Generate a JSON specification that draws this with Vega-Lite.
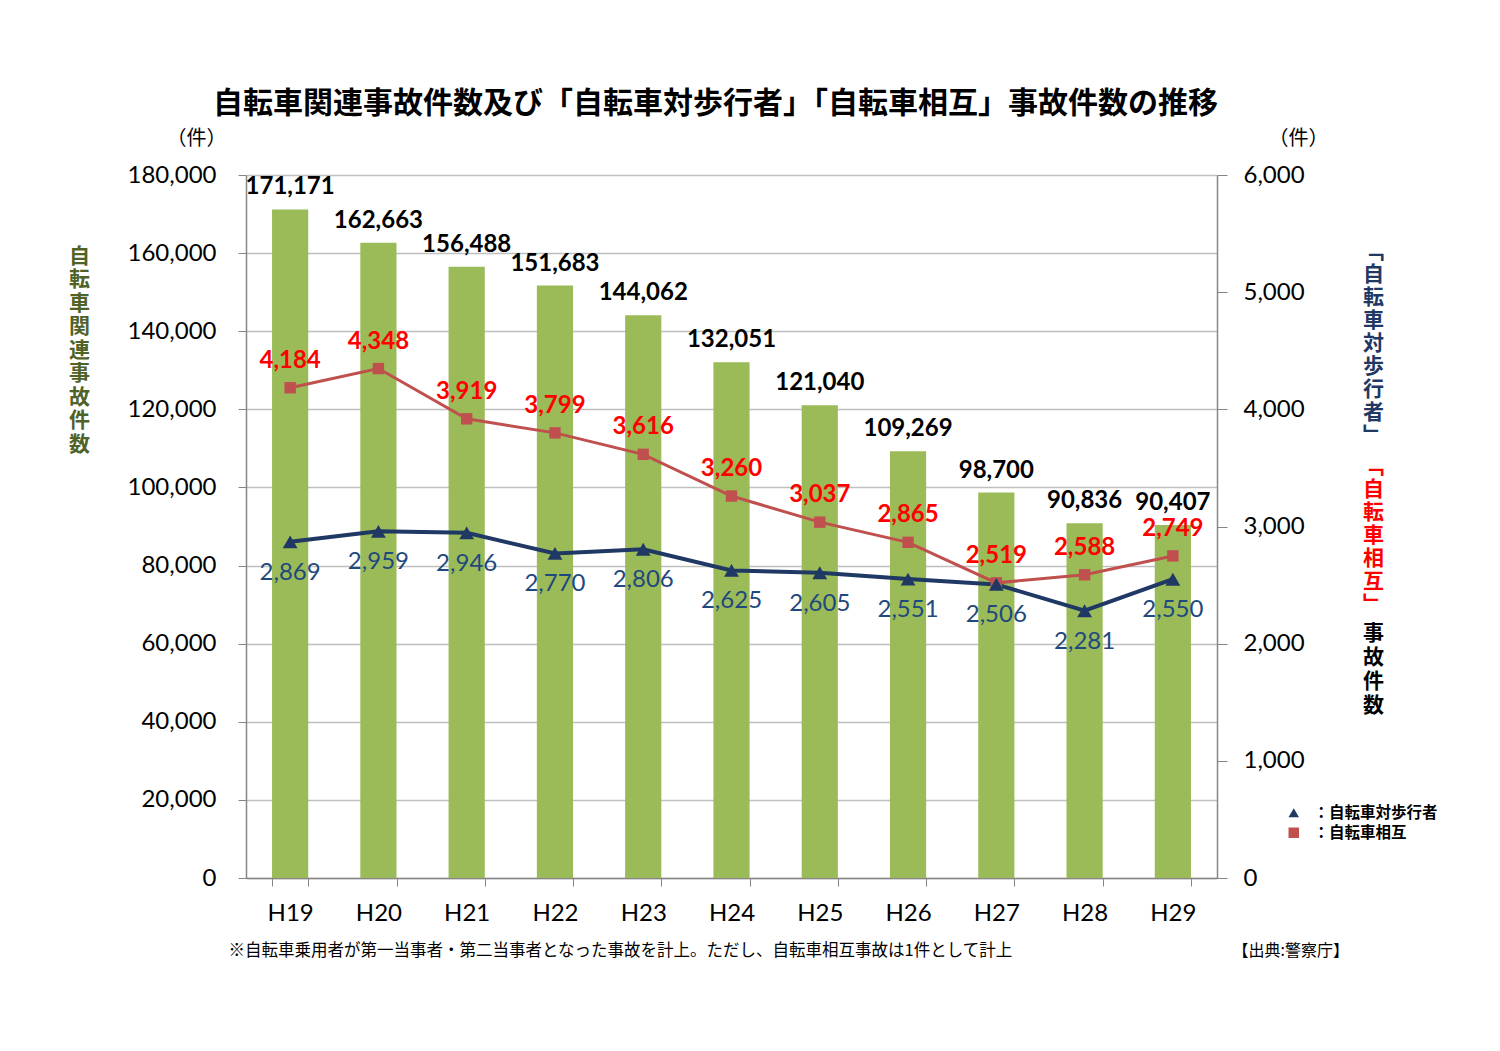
{
  "$schema": "https://vega.github.io/schema/vega-lite/v6.json",
  "width": 971,
  "height": 703,
  "autosize": {"type": "none"},
  "padding": {"left": 246, "top": 175, "right": 283, "bottom": 173},
  "background": "white",
  "title": {
    "text": "自転車関連事故件数及び「自転車対歩行者」「自転車相互」事故件数の推移",
    "font": "Noto Sans CJK JP",
    "fontSize": 30,
    "fontWeight": "bold",
    "color": "#000000",
    "anchor": "middle",
    "frame": "group",
    "dx": -16,
    "offset": 9
  },
  "config": {
    "view": {"stroke": null},
    "axis": {"labelFont": "Lato", "titleFont": "Noto Sans CJK JP"}
  },
  "data": {
    "values": [
      {"year": "H19", "total": 171171, "mutual": 4184, "ped": 2869},
      {"year": "H20", "total": 162663, "mutual": 4348, "ped": 2959},
      {"year": "H21", "total": 156488, "mutual": 3919, "ped": 2946},
      {"year": "H22", "total": 151683, "mutual": 3799, "ped": 2770},
      {"year": "H23", "total": 144062, "mutual": 3616, "ped": 2806},
      {"year": "H24", "total": 132051, "mutual": 3260, "ped": 2625},
      {"year": "H25", "total": 121040, "mutual": 3037, "ped": 2605},
      {"year": "H26", "total": 109269, "mutual": 2865, "ped": 2551},
      {"year": "H27", "total": 98700, "mutual": 2519, "ped": 2506},
      {"year": "H28", "total": 90836, "mutual": 2588, "ped": 2281},
      {"year": "H29", "total": 90407, "mutual": 2749, "ped": 2550}
    ]
  },
  "resolve": {"scale": {"y": "independent"}, "axis": {"x": "independent"}},
  "layer": [
    {
      "encoding": {
        "x": {
          "field": "year",
          "type": "ordinal",
          "scale": {"paddingInner": 0.59, "paddingOuter": 0.295},
          "axis": {
            "orient": "bottom",
            "labelAngle": 0,
            "labelFontSize": 24,
            "labelColor": "#000000",
            "labelPadding": 15,
            "tickBand": "extent",
            "tickSize": 8,
            "tickColor": "#868686",
            "domainColor": "#868686",
            "domainWidth": 1.5,
            "title": "※自転車乗用者が第一当事者・第二当事者となった事故を計上。ただし、自転車相互事故は1件として計上",
            "titleFontSize": 16.5,
            "titleFontWeight": "normal",
            "titleColor": "#000000",
            "titleX": -18,
            "titleY": 72,
            "titleAlign": "left",
            "titleBaseline": "middle",
            "titleAnchor": null
          }
        }
      },
      "resolve": {"axis": {"y": "independent"}},
      "layer": [
        {
          "mark": {"type": "bar", "color": "#9BBB59"},
          "encoding": {
            "y": {
              "field": "total",
              "type": "quantitative",
              "scale": {"domain": [0, 180000], "nice": false},
              "axis": {
                "orient": "left",
                "values": [0, 20000, 40000, 60000, 80000, 100000, 120000, 140000, 160000, 180000],
                "format": ",.0f",
                "labelFontSize": 24,
                "labelColor": "#000000",
                "labelPadding": 22,
                "tickSize": 8,
                "tickColor": "#868686",
                "domainColor": "#868686",
                "domainWidth": 1.5,
                "grid": true,
                "gridColor": "#BFBFBF",
                "gridWidth": 1.5,
                "title": ["自", "転", "車", "関", "連", "事", "故", "件", "数"],
                "titleColor": "#4F6228",
                "titleFontSize": 21,
                "titleFontWeight": "bold",
                "titleAngle": 0,
                "titleX": -167,
                "titleY": 70,
                "titleAlign": "center",
                "titleBaseline": "top",
                "titleLineHeight": 23.5
              }
            }
          }
        },
        {
          "mark": {"type": "text", "font": "Lato", "fontWeight": "bold", "fontSize": 24, "color": "#000000", "baseline": "middle", "dy": -22},
          "encoding": {
            "y": {
              "field": "total",
              "type": "quantitative",
              "axis": {
                "orient": "left",
                "labels": false,
                "ticks": false,
                "domain": false,
                "grid": false,
                "title": "（件）",
                "titleColor": "#000000",
                "titleFontSize": 20,
                "titleFontWeight": "normal",
                "titleAngle": 0,
                "titleX": -50,
                "titleY": -37,
                "titleAlign": "center",
                "titleBaseline": "middle"
              }
            },
            "text": {"field": "total", "type": "quantitative", "format": ","}
          }
        }
      ]
    },
    {
      "encoding": {
        "x": {
          "field": "year",
          "type": "ordinal",
          "axis": {
            "orient": "bottom",
            "labels": false,
            "ticks": false,
            "domain": false,
            "title": "【出典:警察庁】",
            "titleFontSize": 16,
            "titleFontWeight": "normal",
            "titleColor": "#000000",
            "titleX": 986,
            "titleY": 72,
            "titleAlign": "left",
            "titleBaseline": "middle",
            "titleAnchor": null
          }
        }
      },
      "resolve": {"axis": {"y": "independent"}},
      "layer": [
        {
          "mark": {"type": "line", "color": "#C0504D", "strokeWidth": 3},
          "encoding": {
            "y": {
              "field": "mutual",
              "type": "quantitative",
              "scale": {"domain": [0, 6000], "nice": false},
              "axis": {
                "orient": "right",
                "values": [0, 1000, 2000, 3000, 4000, 5000, 6000],
                "format": ",.0f",
                "labelFontSize": 24,
                "labelColor": "#000000",
                "labelPadding": 16,
                "tickSize": 10,
                "tickColor": "#868686",
                "domainColor": "#868686",
                "domainWidth": 1.5,
                "grid": false,
                "title": ["﹁", "自", "転", "車", "相", "互", "﹂"],
                "titleColor": "#FF0000",
                "titleFontSize": 21,
                "titleFontWeight": "bold",
                "titleAngle": 0,
                "titleX": 156,
                "titleY": 280,
                "titleAlign": "center",
                "titleBaseline": "top",
                "titleLineHeight": 23
              }
            }
          }
        },
        {
          "mark": {"type": "line", "color": "#1F3864", "strokeWidth": 4},
          "encoding": {
            "y": {
              "field": "ped",
              "type": "quantitative",
              "axis": {
                "orient": "right",
                "labels": false,
                "ticks": false,
                "domain": false,
                "grid": false,
                "title": ["﹁", "自", "転", "車", "対", "歩", "行", "者", "﹂"],
                "titleColor": "#1F3864",
                "titleFontSize": 21,
                "titleFontWeight": "bold",
                "titleAngle": 0,
                "titleX": 156,
                "titleY": 65,
                "titleAlign": "center",
                "titleBaseline": "top",
                "titleLineHeight": 23
              }
            }
          }
        },
        {
          "mark": {"type": "point", "filled": true, "opacity": 1, "size": 130},
          "encoding": {
            "y": {
              "field": "mutual",
              "type": "quantitative",
              "axis": {
                "orient": "right",
                "labels": false,
                "ticks": false,
                "domain": false,
                "grid": false,
                "title": ["事", "故", "件", "数"],
                "titleColor": "#000000",
                "titleFontSize": 21,
                "titleFontWeight": "bold",
                "titleAngle": 0,
                "titleX": 156,
                "titleY": 447,
                "titleAlign": "center",
                "titleBaseline": "top",
                "titleLineHeight": 24
              }
            },
            "color": {
              "datum": "：自転車相互",
              "type": "nominal",
              "scale": {"domain": ["：自転車対歩行者", "：自転車相互"], "range": ["#1F3864", "#C0504D"]},
              "legend": {
                "orient": "none",
                "legendX": 1040,
                "legendY": 630,
                "title": null,
                "labelFont": "Noto Sans CJK JP",
                "labelFontSize": 15.5,
                "labelFontWeight": "bold",
                "labelOffset": 12,
                "symbolSize": 110,
                "rowPadding": 3,
                "encode": {
                  "symbols": {"update": {"fill": {"signal": "datum.value === '：自転車相互' ? '#FF0000' : '#1F3864'"}, "stroke": {"value": null}}},
                  "labels": {"update": {"fill": {"signal": "datum.value === '：自転車相互' ? '#FF0000' : '#1F497D'"}}}
                }
              }
            },
            "shape": {
              "datum": "：自転車相互",
              "type": "nominal",
              "scale": {"domain": ["：自転車対歩行者", "：自転車相互"], "range": ["triangle-up", "square"]},
              "legend": {
                "orient": "none",
                "legendX": 1040,
                "legendY": 630,
                "title": null,
                "labelFont": "Noto Sans CJK JP",
                "labelFontSize": 15.5,
                "labelFontWeight": "bold",
                "labelOffset": 12,
                "symbolSize": 110,
                "rowPadding": 3,
                "encode": {
                  "symbols": {"update": {"fill": {"signal": "datum.value === '：自転車相互' ? '#FF0000' : '#1F3864'"}, "stroke": {"value": null}}},
                  "labels": {"update": {"fill": {"signal": "datum.value === '：自転車相互' ? '#FF0000' : '#1F497D'"}}}
                }
              }
            }
          }
        },
        {
          "mark": {"type": "point", "filled": true, "opacity": 1, "size": 220},
          "encoding": {
            "y": {
              "field": "ped",
              "type": "quantitative",
              "axis": {
                "orient": "right",
                "labels": false,
                "ticks": false,
                "domain": false,
                "grid": false,
                "title": "（件）",
                "titleColor": "#000000",
                "titleFontSize": 20,
                "titleFontWeight": "normal",
                "titleAngle": 0,
                "titleX": 81,
                "titleY": -37,
                "titleAlign": "center",
                "titleBaseline": "middle"
              }
            },
            "color": {"datum": "：自転車対歩行者", "type": "nominal"},
            "shape": {"datum": "：自転車対歩行者", "type": "nominal"}
          }
        },
        {
          "mark": {"type": "text", "font": "Lato", "fontWeight": "bold", "fontSize": 24, "color": "#FF0000", "baseline": "middle", "dy": -27},
          "encoding": {
            "y": {"field": "mutual", "type": "quantitative", "axis": null},
            "text": {"field": "mutual", "type": "quantitative", "format": ","}
          }
        },
        {
          "mark": {"type": "text", "font": "Lato", "fontSize": 24, "color": "#1F497D", "baseline": "middle", "dy": 31},
          "encoding": {
            "y": {"field": "ped", "type": "quantitative", "axis": null},
            "text": {"field": "ped", "type": "quantitative", "format": ","}
          }
        }
      ]
    }
  ]
}
